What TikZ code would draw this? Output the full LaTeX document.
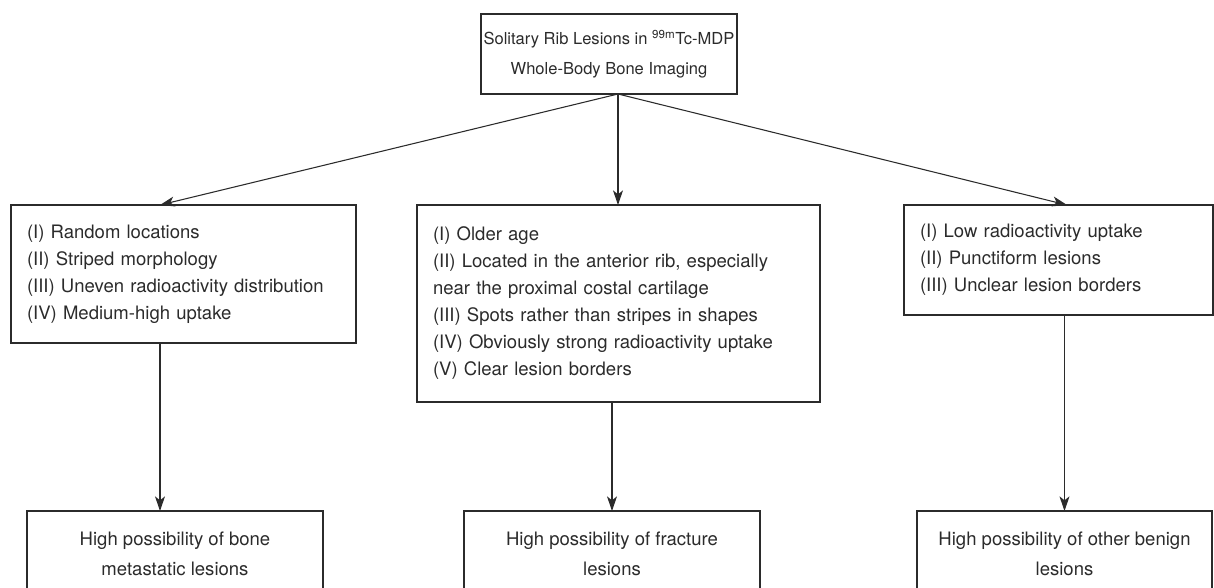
\documentclass[tikz,border=0pt]{standalone}
\usepackage{fontspec}
\setmainfont{TeX Gyre Heros}
\usetikzlibrary{arrows.meta}
\definecolor{ink}{HTML}{2B2B2B}

\begin{document}
\begin{tikzpicture}[x=0.75pt, y=-0.75pt, font=\fontsize{13.9}{20.25}\selectfont,
  every node/.style={text=ink},
  box/.style={draw=ink, line width=0.8pt, outer sep=0pt},
  list/.style={box, align=left, inner xsep=12pt},
  verdict/.style={box, align=center, font=\fontsize{13.9}{22.5}\selectfont},
  link/.style={draw=ink, line width=0.8pt, -{Stealth[length=11pt,width=7.5pt,inset=3pt]}}]
  \useasboundingbox (0,0) rectangle (1214,587);
  \clip (0,0) rectangle (1214,587);

  % The starting question at the top; the three arrows leave from one point.
  \node[verdict, font=\fontsize{12.4}{22.5}\selectfont, inner xsep=1pt,
    minimum width=192pt, minimum height=60pt] (rib) at (609,54)
    {Solitary Rib Lesions in \textsuperscript{99m}Tc-MDP\\Whole-Body Bone Imaging};
  \coordinate (fork) at ([xshift=6.75pt]rib.south);

  % Imaging features, one box per outcome.
  \node[list, text width=234.75pt, minimum height=103.5pt] (feat-bone) at (183.5,274)
    {(I) Random locations\\(II) Striped morphology\\(III) Uneven radioactivity distribution\\(IV) Medium-high uptake};
  \node[list, text width=278.25pt, minimum height=147.75pt] (feat-frac) at (618.5,303.5)
    {(I) Older age\\(II) Located in the anterior rib, especially\\near the proximal costal cartilage\\(III) Spots rather than stripes in shapes\\(IV) Obviously strong radioactivity uptake\\(V) Clear lesion borders};
  \node[list, text width=207.75pt, minimum height=82.5pt] (feat-benign) at (1058.5,260)
    {(I) Low radioactivity uptake\\(II) Punctiform lesions\\(III) Unclear lesion borders};

  % Conclusions along the bottom edge (cut off by the page).
  \node[verdict, minimum width=222pt, minimum height=63.75pt] (out-bone) at (175,553.5)
    {High possibility of bone\\metastatic lesions};
  \node[verdict, minimum width=222pt, minimum height=63.75pt] (out-frac) at (612,553.5)
    {High possibility of fracture\\lesions};
  \node[verdict, minimum width=221.25pt, minimum height=63.75pt] (out-benign) at (1064.5,553.5)
    {High possibility of other benign\\lesions};

  \draw[link] (fork) -- ([xshift=-17.625pt]feat-bone.north);
  \draw[link] (fork) -- (fork |- feat-frac.north);
  \draw[link] (fork) -- ([xshift=6.375pt]feat-benign.north);
  \draw[link] ([xshift=-17.625pt]feat-bone.south) -- ([xshift=-17.625pt]feat-bone.south |- out-bone.north);
  \draw[link] (out-frac.north |- feat-frac.south) -- (out-frac.north);
  \draw[link] (out-benign.north |- feat-benign.south) -- (out-benign.north);
\end{tikzpicture}
\end{document}
